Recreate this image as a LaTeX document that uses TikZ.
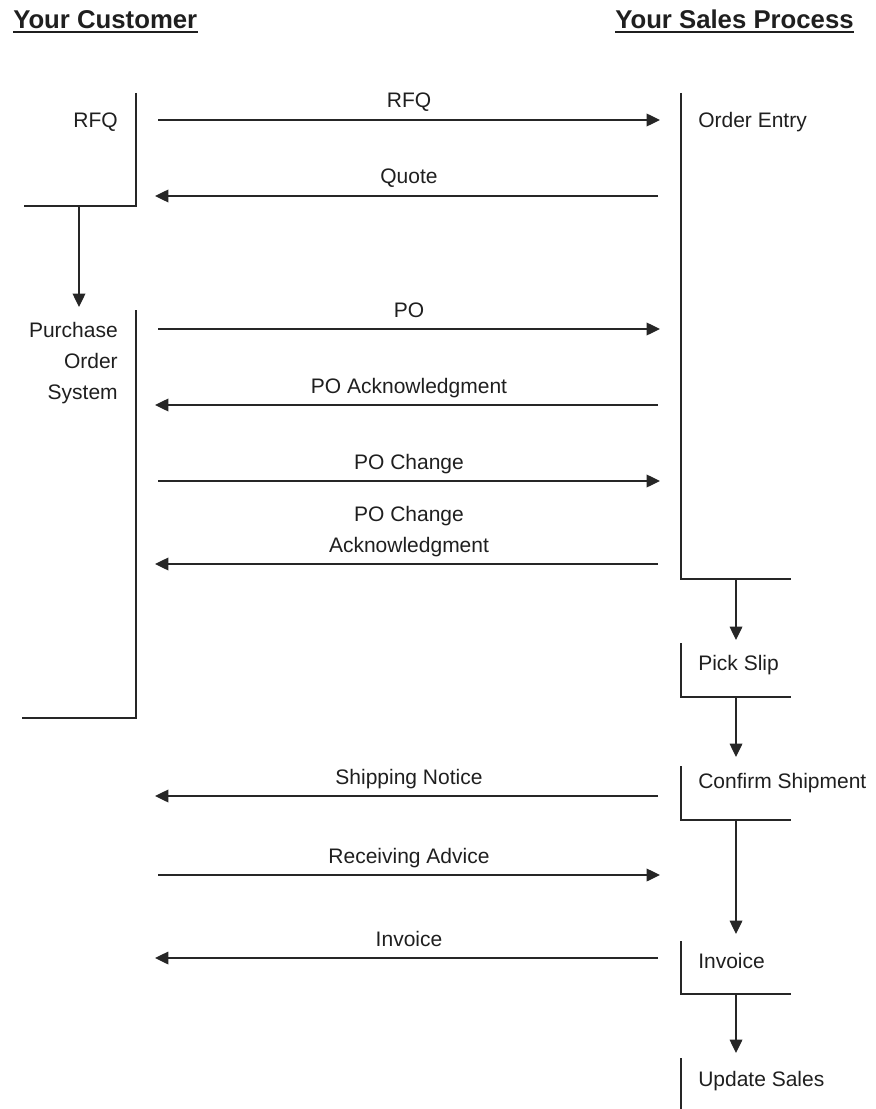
\documentclass[tikz,border=0pt]{standalone}
\usepackage{fontspec}
\setmainfont{Liberation Sans}
\usetikzlibrary{arrows.meta,calc}
\begin{document}
\begin{tikzpicture}[x=0.75pt,y=-0.75pt,
  ln/.style={line width=1pt,draw=black!85},
  msg/.style={ln,-{Triangle[length=10pt,width=9.5pt]}},
  lbl/.style={font=\fontsize{15.75}{23.25}\selectfont,text=black!88,inner sep=0pt},
  hdr/.style={font=\fontsize{19.3}{23}\selectfont\bfseries,text=black!88,inner sep=0pt}]
\useasboundingbox (0,0) rectangle (875,1109);

% headers
\node[hdr,anchor=base west] (hc) at (13,29) {Your Customer};
\node[hdr,anchor=base west] (hs) at (615,29) {Your Sales Process};
\draw[line width=1.5pt,black!88] ($(hc.base west)+(0,3.5)$) -- ($(hc.base east)+(0,3.5)$);
\draw[line width=1.5pt,black!88] ($(hs.base west)+(0,3.5)$) -- ($(hs.base east)+(0,3.5)$);

% customer lane
\coordinate (rfqT) at (136,93); \coordinate (rfqC) at (136,206); \coordinate (rfqE) at (24,206);
\draw[ln] (rfqT) -- (rfqC) -- (rfqE);
\node[lbl,anchor=base east] (rfq) at (118,128) {RFQ};
\coordinate (posT) at (136,310); \coordinate (posC) at (136,718); \coordinate (posE) at (22,718);
\draw[ln] (posT) -- (posC) -- (posE);
\node[lbl,anchor=base east,align=right] (pos) at (118,399) {Purchase\\Order\\System};
\coordinate (rfqD) at (79,206); \coordinate (posA) at (79,307);
\draw[msg] (rfqD) -- (posA);

% sales lane
\coordinate (oeT) at (681,93); \coordinate (oeC) at (681,579); \coordinate (oeE) at (791,579);
\draw[ln] (oeT) -- (oeC) -- (oeE);
\node[lbl,anchor=base west] (oe) at (698,128) {Order Entry};
\coordinate (psT) at (681,643); \coordinate (psC) at (681,697); \coordinate (psE) at (791,697);
\draw[ln] (psT) -- (psC) -- (psE);
\node[lbl,anchor=base west] (ps) at (698,670) {Pick Slip};
\coordinate (csT) at (681,766); \coordinate (csC) at (681,820); \coordinate (csE) at (791,820);
\draw[ln] (csT) -- (csC) -- (csE);
\node[lbl,anchor=base west] (cs) at (698,788) {Confirm Shipment};
\coordinate (ivT) at (681,941); \coordinate (ivC) at (681,994); \coordinate (ivE) at (791,994);
\draw[ln] (ivT) -- (ivC) -- (ivE);
\node[lbl,anchor=base west] (iv) at (698,968) {Invoice};
\coordinate (usT) at (681,1058); \coordinate (usB) at (681,1109);
\draw[ln] (usT) -- (usB);
\node[lbl,anchor=base west] (us) at (698,1086) {Update Sales};

\coordinate (d1a) at (736,579); \coordinate (d1b) at (736,640);
\coordinate (d2a) at (736,697); \coordinate (d2b) at (736,757);
\coordinate (d3a) at (736,820); \coordinate (d3b) at (736,934);
\coordinate (d4a) at (736,994); \coordinate (d4b) at (736,1053);
\draw[msg] (d1a) -- (d1b);
\draw[msg] (d2a) -- (d2b);
\draw[msg] (d3a) -- (d3b);
\draw[msg] (d4a) -- (d4b);

% messages
\coordinate (m1a) at (158,120); \coordinate (m1b) at (660,120);
\draw[msg] (m1a) -- (m1b);
\node[lbl,anchor=base] (l1) at (409,108) {RFQ};
\coordinate (m2a) at (658,196); \coordinate (m2b) at (155,196);
\draw[msg] (m2a) -- (m2b);
\node[lbl,anchor=base] (l2) at (409,184) {Quote};
\coordinate (m3a) at (158,329); \coordinate (m3b) at (660,329);
\draw[msg] (m3a) -- (m3b);
\node[lbl,anchor=base] (l3) at (409,317) {PO};
\coordinate (m4a) at (658,405); \coordinate (m4b) at (155,405);
\draw[msg] (m4a) -- (m4b);
\node[lbl,anchor=base] (l4) at (409,393) {PO Acknowledgment};
\coordinate (m5a) at (158,481); \coordinate (m5b) at (660,481);
\draw[msg] (m5a) -- (m5b);
\node[lbl,anchor=base] (l5) at (409,469) {PO Change};
\coordinate (m6a) at (658,564); \coordinate (m6b) at (155,564);
\draw[msg] (m6a) -- (m6b);
\node[lbl,anchor=base,align=center] (l6) at (409,552) {PO Change\\Acknowledgment};
\coordinate (m7a) at (658,796); \coordinate (m7b) at (155,796);
\draw[msg] (m7a) -- (m7b);
\node[lbl,anchor=base] (l7) at (409,784) {Shipping Notice};
\coordinate (m8a) at (158,875); \coordinate (m8b) at (660,875);
\draw[msg] (m8a) -- (m8b);
\node[lbl,anchor=base] (l8) at (409,863) {Receiving Advice};
\coordinate (m9a) at (658,958); \coordinate (m9b) at (155,958);
\draw[msg] (m9a) -- (m9b);
\node[lbl,anchor=base] (l9) at (409,946) {Invoice};
\end{tikzpicture}
\end{document}
